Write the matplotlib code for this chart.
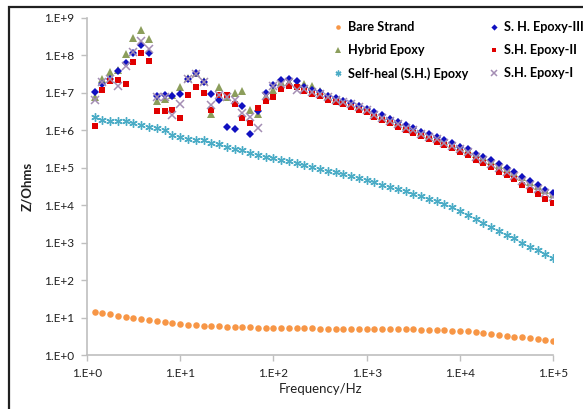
import matplotlib
matplotlib.use("Agg")
import matplotlib.pyplot as plt
from matplotlib.patches import Rectangle

plt.rcParams["font.family"] = ["Lato", "DejaVu Sans"]

# Frequency points (Hz), 12 per decade
freq = [1.21, 1.47, 1.78, 2.15, 2.61, 3.16, 3.83, 4.64, 5.62, 6.81, 8.25, 10,
        12.1, 14.7, 17.8, 21.5, 26.1, 31.6, 38.3, 46.4, 56.2, 68.1, 82.5, 100,
        121, 147, 178, 215, 261, 316, 383, 464, 562, 681, 825, 1000,
        1210, 1470, 1780, 2150, 2610, 3160, 3830, 4640, 5620, 6810, 8250, 10000,
        12100, 14700, 17800, 21500, 26100, 31600, 38300, 46400, 56200, 68100, 82500, 100000]

# Impedance |Z| (Ohms)
bare_strand = [14.0, 13.0, 12.2, 11.2, 10.3, 9.6, 9.0, 8.4, 7.9, 7.4, 7.0, 6.7,
               6.4, 6.2, 6.0, 5.9, 5.8, 5.7, 5.6, 5.5, 5.45, 5.4, 5.35, 5.3,
               5.3, 5.25, 5.2, 5.2, 5.15, 5.1, 5.1, 5.1, 5.05, 5.0, 5.0, 5.0,
               5.0, 4.95, 4.95, 4.9, 4.9, 4.85, 4.8, 4.75, 4.7, 4.6, 4.5, 4.4,
               4.25, 4.1, 3.9, 3.7, 3.5, 3.3, 3.1, 2.95, 2.8, 2.6, 2.45, 2.3]

hybrid = [7.9e6, 2.3e7, 3.7e7, 4.2e7, 1.12e8, 2.9e8, 4.7e8, 2.75e8, 5.9e6, 6.8e6, 8.7e6, 1.45e7,
          2.5e7, 3.3e7, 2.1e7, 2.8e6, 1.45e7, 7.9e6, 1.0e7, 1.12e7, 3.6e6, 2.8e6, 8.3e6, 1.23e7,
          1.9e7, 1.9e7, 1.74e7, 1.7e7, 1.51e7, 1.12e7, 8.1e6, 6.9e6, 5.9e6, 5.1e6, 4.4e6, 3.6e6,
          2.95e6, 2.4e6, 1.95e6, 1.62e6, 1.32e6, 1.1e6, 9.1e5, 7.6e5, 6.3e5, 5.2e5, 4.4e5, 3.6e5,
          2.95e5, 2.3e5, 1.9e5, 1.51e5, 1.2e5, 9.3e4, 7.4e4, 5.6e4, 4.3e4, 3.3e4, 2.6e4, 2.0e4]

self_heal = [2.24e6, 1.91e6, 1.78e6, 1.74e6, 1.74e6, 1.55e6, 1.35e6, 1.26e6, 1.12e6, 1.02e6, 7.6e5, 6.6e5,
             5.9e5, 5.4e5, 5.4e5, 4.7e5, 4.4e5, 3.6e5, 3.2e5, 2.9e5, 2.5e5, 2.2e5, 2.0e5, 1.8e5,
             1.66e5, 1.51e5, 1.35e5, 1.2e5, 1.05e5, 9.3e4, 8.3e4, 7.6e4, 6.8e4, 6.0e4, 5.2e4, 4.7e4,
             4.1e4, 3.5e4, 3.1e4, 2.7e4, 2.4e4, 2.0e4, 1.78e4, 1.51e4, 1.26e4, 1.07e4, 9.1e3, 7.2e3,
             5.6e3, 4.3e3, 3.4e3, 2.6e3, 2.0e3, 1.6e3, 1.3e3, 980, 780, 620, 490, 380]

sh_epoxy_3 = [1.07e7, 1.74e7, 2.29e7, 3.89e7, 6.46e7, 1.15e8, 1.91e8, 1.17e8, 8.5e6, 8.7e6, 8.1e6, 9.1e6,
              2.4e7, 3.3e7, 2.0e7, 9.1e6, 6.5e6, 1.2e6, 1.07e6, 4.5e6, 7.8e5, 3.3e6, 1.0e7, 1.62e7,
              2.19e7, 2.29e7, 2.09e7, 1.41e7, 1.2e7, 1.05e7, 8.5e6, 7.2e6, 6.2e6, 5.4e6, 4.6e6, 3.8e6,
              3.0e6, 2.5e6, 2.04e6, 1.66e6, 1.35e6, 1.15e6, 9.3e5, 7.8e5, 6.6e5, 5.5e5, 4.5e5, 3.7e5,
              3.1e5, 2.4e5, 1.95e5, 1.58e5, 1.23e5, 9.8e4, 7.6e4, 5.8e4, 4.4e4, 3.4e4, 2.6e4, 2.1e4]

sh_epoxy_2 = [1.3e6, 1.2e7, 2.14e7, 2.19e7, 1.74e7, 6.8e7, 1.17e8, 7.2e7, 3.3e6, 3.3e6, 3.6e6, 2.2e6,
              8.9e6, 1.45e7, 1.0e7, 3.6e6, 8.9e6, 8.9e6, 5.2e6, 2.1e6, 1.55e6, 4.0e6, 6.0e6, 7.6e6,
              1.26e7, 1.51e7, 1.48e7, 1.1e7, 9.5e6, 8.3e6, 6.6e6, 5.6e6, 4.9e6, 4.3e6, 3.6e6, 3.0e6,
              2.3e6, 1.9e6, 1.55e6, 1.26e6, 1.02e6, 8.7e5, 7.1e5, 5.8e5, 5.0e5, 4.1e5, 3.3e5, 2.7e5,
              2.2e5, 1.62e5, 1.32e5, 1.07e5, 7.9e4, 6.3e4, 4.9e4, 3.5e4, 2.6e4, 2.0e4, 1.5e4, 1.17e4]

sh_epoxy_1 = [6.6e6, 2.0e7, 2.3e7, 1.55e7, 5.2e7, 1.26e8, 2.4e8, 1.48e8, 7.9e6, 7.9e6, 2.6e6, 5.2e6,
              2.4e7, 3.2e7, 2.0e7, 4.7e6, 8.9e6, 7.9e6, 6.6e6, 2.9e6, 2.3e6, 1.12e6, 8.3e6, 1.55e7,
              1.78e7, 1.9e7, 1.23e7, 1.26e7, 1.07e7, 9.3e6, 7.6e6, 6.5e6, 5.6e6, 4.9e6, 4.2e6, 3.5e6,
              2.6e6, 2.2e6, 1.78e6, 1.45e6, 1.17e6, 1.0e6, 8.1e5, 6.6e5, 5.8e5, 4.7e5, 3.8e5, 3.2e5,
              2.6e5, 1.95e5, 1.58e5, 1.29e5, 9.8e4, 7.8e4, 6.2e4, 4.5e4, 3.5e4, 2.7e4, 2.1e4, 1.66e4]

x_ticks = [1, 10, 100, 1000, 10000, 100000]
x_tick_labels = ["1.E+0", "1.E+1", "1.E+2", "1.E+3", "1.E+4", "1.E+5"]
y_ticks = [1, 10, 100, 1e3, 1e4, 1e5, 1e6, 1e7, 1e8, 1e9]
y_tick_labels = ["1.E+0", "1.E+1", "1.E+2", "1.E+3", "1.E+4",
                 "1.E+5", "1.E+6", "1.E+7", "1.E+8", "1.E+9"]

fig = plt.figure(figsize=(5.83, 4.09), dpi=100)
ax = fig.add_axes([0.149, 0.132, 0.8, 0.824])

# outer chart border (left and top visible)
fig.add_artist(Rectangle((0.016, -0.05), 1.2, 1.033, transform=fig.transFigure,
                         fill=False, edgecolor="#202020", linewidth=1.6))

ax.plot(freq, bare_strand, "o", color="#F79646", markersize=4.7, markeredgewidth=0,
        label="Bare Strand")
ax.plot(freq, hybrid, "^", color="#8C9E5C", markersize=5.6, markeredgewidth=0,
        label="Hybrid Epoxy")
ax.plot(freq, self_heal, marker=(6, 2, 0), linestyle="none", color="#4BACC6",
        markersize=6, markeredgewidth=1.0, label="Self-heal (S.H.) Epoxy")
ax.plot(freq, sh_epoxy_3, "D", color="#1010C0", markersize=4.5, markeredgewidth=0,
        label="S. H. Epoxy-III")
ax.plot(freq, sh_epoxy_2, "s", color="#E00000", markersize=4.4, markeredgewidth=0,
        label="S.H. Epoxy-II")
ax.plot(freq, sh_epoxy_1, "x", color="#A48EB4", markersize=5.8, markeredgewidth=1.1,
        label="S.H. Epoxy-I")

ax.set_xscale("log")
ax.set_yscale("log")
ax.set_xlim(1, 1e5)
ax.set_ylim(1, 1e9)
ax.set_xticks(x_ticks)
ax.set_xticklabels(x_tick_labels)
ax.set_yticks(y_ticks)
ax.set_yticklabels(y_tick_labels)
ax.minorticks_off()

for side in ["top", "right"]:
    ax.spines[side].set_visible(False)
for side in ["left", "bottom"]:
    ax.spines[side].set_color("#BFBFBF")
    ax.spines[side].set_linewidth(1.2)
ax.tick_params(axis="both", length=4, width=1, color="#BFBFBF",
               labelsize=8.5, labelcolor="#202020", pad=5)

ax.set_xlabel("Frequency/Hz", fontsize=9.5, color="#202020", labelpad=3)
ax.set_ylabel("Z/Ohms", fontsize=9.5, fontweight="bold", color="#202020", labelpad=8)

ax.legend(ncol=2, loc="upper left", bbox_to_anchor=(0.503, 1.024), frameon=False,
          handlelength=0.8, handletextpad=0.4, columnspacing=1.6, labelspacing=0.86,
          markerscale=0.7, prop={"weight": "bold", "size": 9.1})

plt.savefig("out.png", dpi=100)
